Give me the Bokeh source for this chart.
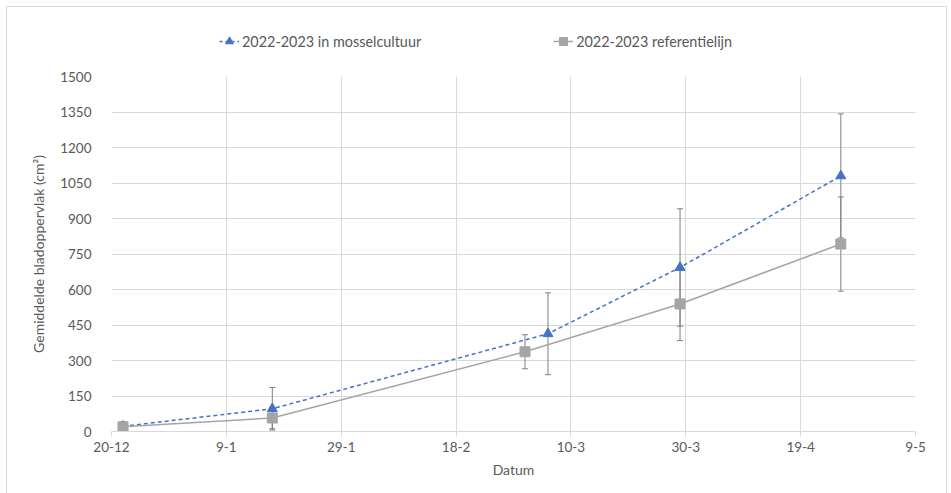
from datetime import date
from bokeh.plotting import figure
from bokeh.layouts import column
from bokeh.models import FixedTicker, Legend, LegendItem, Whisker, ColumnDataSource, Range1d
from bokeh.embed import file_html
from bokeh.resources import INLINE

# ---- data ----
origin = "2022-12-20"
tick_dates = ["2022-12-20", "2023-01-09", "2023-01-29", "2023-02-18",
              "2023-03-10", "2023-03-30", "2023-04-19", "2023-05-09"]
tick_labels = ["20-12", "9-1", "29-1", "18-2", "10-3", "30-3", "19-4", "9-5"]

mossel_dates = ["2022-12-22", "2023-01-17", "2023-03-06", "2023-03-29", "2023-04-26"]
mossel_values = [22, 96, 413, 693, 1080]
mossel_err = [18, 90, 173, 248, 262]

ref_dates = ["2022-12-22", "2023-01-17", "2023-03-02", "2023-03-29", "2023-04-26"]
ref_values = [20, 57, 337, 539, 792]
ref_err = [15, 45, 72, 155, 199]

y_ticks = [0, 150, 300, 450, 600, 750, 900, 1050, 1200, 1350, 1500]

series_names = ["2022-2023 in mosselcultuur", "2022-2023 referentielijn"]


def days(s):
    return (date.fromisoformat(s) - date.fromisoformat(origin)).days


FONT = "Lato"
TXT = "#595959"
BLUE = "#4472C4"
GRAY = "#A5A5A5"
ERR = "#7F7F7F"
GRID = "#D9D9D9"

tx = [days(d) for d in tick_dates]
mx = [days(d) for d in mossel_dates]
rx = [days(d) for d in ref_dates]

# ---------- main plot ----------
p = figure(width=939, height=432, output_backend="svg", toolbar_location=None,
           x_range=Range1d(tx[0], tx[-1]), y_range=Range1d(0, 1500),
           min_border_left=104, min_border_right=31, min_border_top=7,
           min_border_bottom=70)
p.outline_line_color = None
p.border_fill_color = "white"

p.xaxis.ticker = FixedTicker(ticks=tx)
p.xaxis.major_label_overrides = {t: l for t, l in zip(tx, tick_labels)}
p.yaxis.ticker = FixedTicker(ticks=y_ticks)
p.xgrid.ticker = FixedTicker(ticks=tx)
p.ygrid.ticker = FixedTicker(ticks=y_ticks)
p.xgrid.grid_line_color = GRID
p.ygrid.grid_line_color = GRID

for ax in (p.xaxis, p.yaxis):
    ax.major_label_text_font = FONT
    ax.major_label_text_font_size = "13.5px"
    ax.major_label_text_color = TXT
    ax.axis_label_text_font = FONT
    ax.axis_label_text_font_size = "14px"
    ax.axis_label_text_color = TXT
    ax.axis_label_text_font_style = "normal"
    ax.minor_tick_line_color = None

p.xaxis.axis_line_color = GRID
p.xaxis.major_tick_line_color = GRID
p.xaxis.major_tick_in = 0
p.xaxis.major_tick_out = 5
p.xaxis.major_label_standoff = 5
p.xaxis.axis_label = "Datum"
p.xaxis.axis_label_standoff = 6
p.yaxis.axis_line_color = None
p.yaxis.major_tick_line_color = None
p.yaxis.major_label_standoff = 14
p.yaxis.axis_label = "Gemiddelde bladoppervlak (cm²)"
p.yaxis.axis_label_standoff = 10

ms = ColumnDataSource(dict(x=mx, y=mossel_values,
                           lo=[v - e for v, e in zip(mossel_values, mossel_err)],
                           hi=[v + e for v, e in zip(mossel_values, mossel_err)]))
rs = ColumnDataSource(dict(x=rx, y=ref_values,
                           lo=[v - e for v, e in zip(ref_values, ref_err)],
                           hi=[v + e for v, e in zip(ref_values, ref_err)]))

for src in (rs, ms):
    w = Whisker(source=src, base="x", lower="lo", upper="hi", line_color=ERR,
                line_width=1)
    w.upper_head.size = 6
    w.lower_head.size = 6
    w.upper_head.line_color = ERR
    w.lower_head.line_color = ERR
    p.add_layout(w)

p.line("x", "y", source=ms, line_color=BLUE, line_width=1.5, line_dash="4 3")
p.scatter("x", "y", source=ms, marker="triangle", size=10, fill_color=BLUE,
          line_color=BLUE)
p.line("x", "y", source=rs, line_color=GRAY, line_width=1.5)
p.scatter("x", "y", source=rs, marker="square", size=10, fill_color=GRAY,
          line_color=GRAY)

# ---------- legend strip (same series, drawn outside its visible range) ----------
lg = figure(width=939, height=62, output_backend="svg", toolbar_location=None,
            x_range=Range1d(-2, -1), y_range=Range1d(-2, -1),
            min_border_left=0, min_border_right=0, min_border_top=0, min_border_bottom=0)
lg.axis.visible = False
lg.grid.visible = False
lg.outline_line_color = None
lg.border_fill_color = "white"
a1 = lg.line("x", "y", source=ms, line_color=BLUE, line_width=1.5, line_dash="3 3")
b1 = lg.scatter("x", "y", source=ms, marker="triangle", size=9,
                fill_color=BLUE, line_color=BLUE)
a2 = lg.line("x", "y", source=rs, line_color=GRAY, line_width=1.5)
b2 = lg.scatter("x", "y", source=rs, marker="square", size=9,
                fill_color=GRAY, line_color=GRAY)
legend = Legend(items=[LegendItem(label=series_names[0], renderers=[a1, b1]),
                       LegendItem(label=series_names[1], renderers=[a2, b2])],
                orientation="horizontal", location=(108, 18),
                label_text_font=FONT, label_text_font_size="14.4px",
                label_text_color=TXT, border_line_color=None,
                background_fill_alpha=0, glyph_width=20, spacing=132,
                label_standoff=3, margin=0, padding=6)
lg.add_layout(legend)

layout = column(lg, p, spacing=0)
layout.styles = {"border-top": "1px solid #D9D9D9", "border-left": "1px solid #D9D9D9",
                 "border-right": "1px solid #D9D9D9", "margin-left": "6px",
                 "margin-top": "6px", "background-color": "white"}

open("out.html", "w").write(file_html(layout, INLINE))
